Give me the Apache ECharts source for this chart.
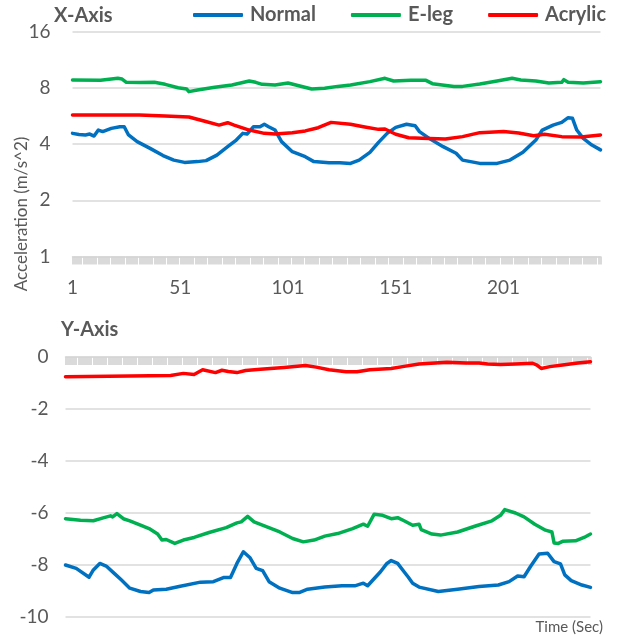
<!DOCTYPE html>
<html>
<head>
<meta charset="utf-8">
<script src="https://cdn.jsdelivr.net/npm/echarts@6/dist/echarts.min.js"></script>
<style>
html,body{margin:0;padding:0;background:#fff;}
#chart{width:628px;height:636px;}
</style>
</head>
<body>
<div id="chart"></div>
<script>
// ---- Data (category index 0..245 => time 1..246) ----
var categoryCount = 246;
var categories = [];
for (var k = 1; k <= categoryCount; k++) categories.push(String(k));

var seriesNames = ['Normal', 'E-leg', 'Acrylic'];
var colors = ['#0070C0', '#00B050', '#FF0000'];
var xTickLabels = ['1', '51', '101', '151', '201'];
var topYTicks = [1, 2, 4, 8, 16];
var bottomYTicks = [-10, -8, -6, -4, -2, 0];

// X-Axis acceleration (log2 scale)
var normalX = [[0,4.56],[3,4.50],[6,4.47],[8,4.52],[10,4.41],[12,4.75],[14,4.66],[18,4.85],[22,4.95],[24,4.95],[26,4.47],[30,4.12],[36,3.79],[42,3.47],[47,3.28],[52,3.19],[58,3.22],[62,3.26],[67,3.49],[72,3.87],[76,4.20],[79,4.56],[81,4.52],[84,4.95],[87,4.95],[89,5.10],[91,4.95],[94,4.75],[97,4.12],[102,3.64],[108,3.42],[112,3.22],[119,3.18],[124,3.18],[129,3.15],[133,3.28],[138,3.61],[142,4.08],[146,4.56],[150,4.91],[155,5.10],[159,5.01],[161,4.66],[166,4.25],[172,3.87],[178,3.57],[181,3.28],[189,3.15],[197,3.15],[203,3.28],[209,3.61],[215,4.20],[218,4.75],[223,5.05],[227,5.22],[230,5.53],[232,5.49],[234,4.75],[237,4.29],[241,3.95],[245,3.72]];
var elegX = [[0,8.80],[13,8.78],[21,8.98],[23,8.90],[25,8.55],[31,8.52],[38,8.55],[43,8.34],[49,8.00],[53,7.87],[54,7.62],[58,7.78],[66,8.04],[74,8.27],[82,8.69],[85,8.55],[88,8.34],[94,8.27],[100,8.48],[105,8.20],[111,7.87],[117,7.94],[123,8.13],[129,8.27],[138,8.62],[145,8.98],[149,8.69],[157,8.76],[164,8.76],[167,8.41],[177,8.13],[181,8.13],[189,8.37],[197,8.69],[204,8.98],[208,8.80],[215,8.69],[221,8.48],[227,8.55],[228,8.83],[230,8.55],[237,8.48],[245,8.62]];
var acrylicX = [[0,5.72],[20,5.72],[31,5.72],[43,5.65],[54,5.58],[61,5.31],[68,5.05],[72,5.20],[75,5.05],[82,4.75],[89,4.56],[94,4.52],[102,4.60],[108,4.70],[114,4.89],[120,5.22],[129,5.10],[135,4.95],[142,4.79],[145,4.81],[150,4.51],[156,4.32],[162,4.29],[173,4.25],[181,4.38],[189,4.60],[200,4.66],[207,4.58],[214,4.43],[219,4.51],[227,4.38],[236,4.36],[245,4.47]];

// Y-Axis acceleration (linear)
var normalY = [[0,-8.00],[5,-8.13],[11,-8.47],[13,-8.19],[16,-7.94],[19,-8.04],[23,-8.34],[26,-8.57],[30,-8.89],[35,-9.02],[39,-9.06],[41,-8.96],[47,-8.93],[53,-8.83],[63,-8.66],[69,-8.64],[74,-8.48],[77,-8.48],[80,-7.94],[83,-7.49],[86,-7.71],[89,-8.13],[92,-8.22],[95,-8.64],[100,-8.89],[106,-9.06],[109,-9.06],[113,-8.93],[121,-8.85],[129,-8.80],[135,-8.80],[139,-8.70],[141,-8.80],[147,-8.26],[150,-7.94],[152,-7.83],[155,-7.94],[158,-8.26],[160,-8.47],[162,-8.70],[165,-8.85],[174,-9.02],[183,-8.93],[193,-8.83],[202,-8.77],[207,-8.64],[211,-8.42],[214,-8.45],[217,-8.06],[221,-7.58],[225,-7.55],[228,-7.87],[231,-7.96],[233,-8.38],[236,-8.60],[241,-8.77],[245,-8.86]];
var elegY = [[0,-6.22],[7,-6.28],[13,-6.30],[18,-6.18],[21,-6.11],[22,-6.15],[24,-6.02],[27,-6.22],[30,-6.30],[35,-6.47],[39,-6.60],[43,-6.81],[45,-7.04],[47,-7.02],[51,-7.17],[55,-7.04],[60,-6.94],[67,-6.75],[75,-6.56],[80,-6.38],[82,-6.34],[85,-6.13],[88,-6.34],[94,-6.53],[100,-6.73],[106,-6.98],[111,-7.11],[116,-7.04],[121,-6.89],[127,-6.79],[134,-6.60],[139,-6.43],[141,-6.51],[144,-6.05],[148,-6.09],[152,-6.22],[155,-6.18],[158,-6.30],[162,-6.47],[165,-6.43],[166,-6.64],[171,-6.81],[175,-6.85],[183,-6.73],[191,-6.51],[199,-6.30],[203,-6.09],[205,-5.87],[210,-6.00],[214,-6.15],[219,-6.43],[224,-6.66],[227,-6.73],[228,-7.15],[230,-7.17],[232,-7.09],[238,-7.07],[242,-6.94],[245,-6.81]];
var acrylicY = [[0,-0.76],[30,-0.73],[49,-0.71],[55,-0.63],[60,-0.67],[64,-0.49],[70,-0.60],[73,-0.51],[76,-0.56],[80,-0.60],[84,-0.52],[91,-0.47],[102,-0.40],[112,-0.33],[117,-0.39],[123,-0.49],[131,-0.57],[136,-0.57],[142,-0.49],[152,-0.44],[158,-0.36],[165,-0.27],[178,-0.20],[187,-0.23],[193,-0.23],[197,-0.27],[203,-0.29],[210,-0.27],[218,-0.24],[220,-0.31],[222,-0.44],[226,-0.37],[232,-0.31],[239,-0.23],[245,-0.18]];

var FONT = 'Lato, "Open Sans", sans-serif';
var TXT = '#595959';
var GRIDC = '#d9d9d9';

function lineSeries(name, data, xi, yi, color) {
  return {
    name: name, type: 'line', xAxisIndex: xi, yAxisIndex: yi, data: data,
    showSymbol: false, symbol: 'none', smooth: false, animation: false,
    lineStyle: { color: color, width: 3.5, cap: 'round', join: 'round' },
    itemStyle: { color: color }
  };
}

function xAxisCfg(gi) {
  return {
    type: 'category', gridIndex: gi, data: categories, boundaryGap: false,
    axisLine: { show: true, onZero: true, lineStyle: { color: GRIDC, width: 1.5 } },
    axisTick: { show: true, interval: 0, length: 8, lineStyle: { color: '#d4d4d4', width: 1.7 } },
    axisLabel: {
      interval: 49, margin: 22, color: TXT, fontSize: 19, fontFamily: FONT,
      formatter: function (v) { return xTickLabels.indexOf(v) >= 0 ? v : ''; }
    },
    splitLine: { show: false }
  };
}

var chart = echarts.init(document.getElementById('chart'), null, { renderer: 'canvas' });
chart.setOption({
  backgroundColor: '#ffffff',
  animation: false,
  textStyle: { fontFamily: FONT },
  title: [
    { text: 'X-Axis', left: 54, top: 6, padding: 0, textStyle: { fontSize: 20, fontWeight: 'bold', color: TXT, fontFamily: FONT } },
    { text: 'Y-Axis', left: 61, top: 320, padding: 0, textStyle: { fontSize: 20, fontWeight: 'bold', color: TXT, fontFamily: FONT } }
  ],
  legend: {
    data: seriesNames, left: 193, top: 5, padding: 0, itemGap: 35,
    itemWidth: 50, itemHeight: 4, icon: 'roundRect',
    textStyle: { fontSize: 20, fontWeight: 'bold', color: TXT, fontFamily: FONT, padding: [0, 0, 0, 2] }
  },
  grid: [
    { left: 72.5, top: 31.4, width: 528, height: 225.2, containLabel: false, outerBoundsMode: 'none' },
    { left: 65.5, top: 357, width: 525, height: 260, containLabel: false, outerBoundsMode: 'none' }
  ],
  xAxis: [xAxisCfg(0), xAxisCfg(1)],
  yAxis: [
    {
      type: 'log', logBase: 2, gridIndex: 0, min: topYTicks[0], max: topYTicks[topYTicks.length - 1],
      axisLine: { show: false }, axisTick: { show: false },
      axisLabel: { margin: 22, color: TXT, fontSize: 19, fontFamily: FONT },
      splitLine: { show: true, lineStyle: { color: GRIDC, width: 1.5 } }
    },
    {
      type: 'value', gridIndex: 1, min: bottomYTicks[0], max: bottomYTicks[bottomYTicks.length - 1], interval: 2,
      axisLine: { show: false }, axisTick: { show: false },
      axisLabel: { margin: 17, color: TXT, fontSize: 19, fontFamily: FONT },
      splitLine: { show: true, lineStyle: { color: GRIDC, width: 1.5 } }
    }
  ],
  graphic: [
    { type: 'text', x: 22, y: 214, rotation: Math.PI / 2,
      style: { text: 'Acceleration (m/s^2)', fill: TXT, font: '17px ' + FONT, align: 'center', verticalAlign: 'middle' } },
    { type: 'text', x: 603, y: 627,
      style: { text: 'Time (Sec)', fill: TXT, font: '15px ' + FONT, align: 'right', verticalAlign: 'middle' } }
  ],
  series: [
    lineSeries(seriesNames[0], normalX, 0, 0, colors[0]),
    lineSeries(seriesNames[1], elegX, 0, 0, colors[1]),
    lineSeries(seriesNames[2], acrylicX, 0, 0, colors[2]),
    lineSeries(seriesNames[0], normalY, 1, 1, colors[0]),
    lineSeries(seriesNames[1], elegY, 1, 1, colors[1]),
    lineSeries(seriesNames[2], acrylicY, 1, 1, colors[2])
  ]
});
</script>
</body>
</html>
